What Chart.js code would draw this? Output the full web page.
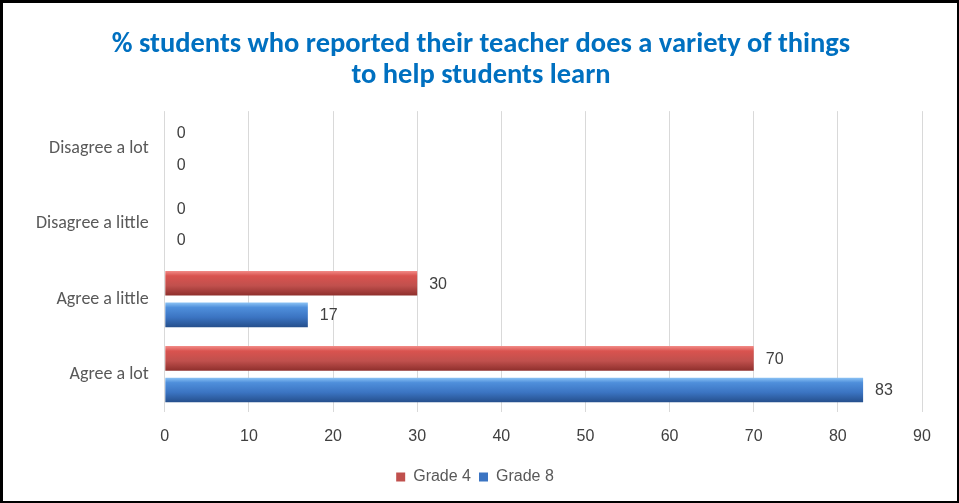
<!DOCTYPE html>
<html>
<head>
<meta charset="utf-8">
<script src="https://cdn.jsdelivr.net/npm/chart.js@4.4.1/dist/chart.umd.min.js"></script>
<style>
  html, body { margin: 0; padding: 0; background: #fff; }
  canvas { display: block; }
</style>
</head>
<body>
<canvas id="chart" width="959" height="503"></canvas>
<script>
const categories = ['Disagree a lot', 'Disagree a little', 'Agree a little', 'Agree a lot'];
const grade4 = [0, 0, 30, 70];
const grade8 = [0, 0, 17, 83];
const xTicks = [0, 10, 20, 30, 40, 50, 60, 70, 80, 90];

const palettes = {
    red: ['#f28b87', '#d9534f', '#c0504d', '#8e2f2c'],
    blue: ['#8cc3f5', '#4f8fdb', '#3b74c2', '#254f8c']
};

// vertical shading on every bar, like the bevelled office bars
const shadePlugin = {
    id: 'shade',
    afterLayout(chart) {
        // the original title sits centred on the whole picture, not the padded box
        if (chart.titleBlock) chart.titleBlock.left += 12;
    },
    beforeDatasetsDraw(chart) {
        const ctx = chart.ctx;
        chart.data.datasets.forEach((ds, i) => {
            const meta = chart.getDatasetMeta(i);
            const p = palettes[ds.shade];
            meta.data.forEach(bar => {
                const h = bar.height;
                const g = ctx.createLinearGradient(0, bar.y - h / 2, 0, bar.y + h / 2);
                g.addColorStop(0, p[0]);
                g.addColorStop(0.2, p[1]);
                g.addColorStop(0.6, p[2]);
                g.addColorStop(1, p[3]);
                bar.options.backgroundColor = g;
            });
        });
    },
    afterDatasetsDraw(chart) {
        const ctx = chart.ctx;
        ctx.save();
        ctx.font = '16px "Liberation Sans", Arial, sans-serif';
        ctx.fillStyle = '#404040';
        ctx.textBaseline = 'middle';
        ctx.textAlign = 'left';
        chart.data.datasets.forEach((ds, i) => {
            const meta = chart.getDatasetMeta(i);
            meta.data.forEach((bar, j) => {
                ctx.fillText(String(ds.data[j]), bar.x + 12, bar.y + 1);
            });
        });
        ctx.restore();
    },
    afterDraw(chart) {
        // black frame round the picture
        const ctx = chart.ctx;
        ctx.save();
        ctx.fillStyle = '#000';
        ctx.fillRect(0, 0, 959, 3);
        ctx.fillRect(0, 0, 3, 503);
        ctx.fillRect(957, 0, 2, 503);
        ctx.fillRect(0, 501, 959, 2);
        ctx.restore();
    }
};

const legendBoxes = {
    red: '#c0504d',
    blue: '#3b74c2'
};

new Chart(document.getElementById('chart'), {
    type: 'bar',
    data: {
        labels: categories,
        datasets: [
            { label: 'Grade 4', data: grade4, shade: 'red', backgroundColor: () => legendBoxes.red, borderWidth: 0 },
            { label: 'Grade 8', data: grade8, shade: 'blue', backgroundColor: () => legendBoxes.blue, borderWidth: 0 }
        ]
    },
    options: {
        indexAxis: 'y',
        responsive: false,
        animation: false,
        devicePixelRatio: 1,
        categoryPercentage: 0.84,
        barPercentage: 0.78,
        layout: { padding: { left: 28, right: 37, top: 29, bottom: 8 } },
        scales: {
            x: {
                min: 0,
                max: 90,
                afterBuildTicks(axis) { axis.ticks = xTicks.map(v => ({ value: v })); },
                ticks: {
                    color: '#404040',
                    font: { family: '"Liberation Sans", Arial, sans-serif', size: 16 },
                    padding: 15,
                    maxRotation: 0
                },
                grid: { color: '#d9d9d9', drawTicks: false },
                border: { display: false }
            },
            y: {
                ticks: {
                    color: '#595959',
                    font: { family: 'Carlito, "Liberation Sans Narrow", "Open Sans", sans-serif', size: 18 },
                    padding: 8
                },
                grid: { display: false },
                border: { display: false }
            }
        },
        plugins: {
            title: {
                display: true,
                text: ['% students who reported their teacher does a variety of things', 'to help students learn'],
                color: '#0070c0',
                font: { family: 'Carlito, "Liberation Sans Narrow", "Open Sans", sans-serif', size: 28.5, weight: 'bold', lineHeight: 1.09 },
                padding: { top: 0, bottom: 20 }
            },
            legend: {
                position: 'bottom',
                labels: {
                    boxWidth: 9,
                    boxHeight: 9,
                    padding: 8,
                    color: '#595959',
                    font: { family: '"Liberation Sans", Arial, sans-serif', size: 16 }
                }
            },
            tooltip: { enabled: false }
        }
    },
    plugins: [shadePlugin]
});
</script>
</body>
</html>
